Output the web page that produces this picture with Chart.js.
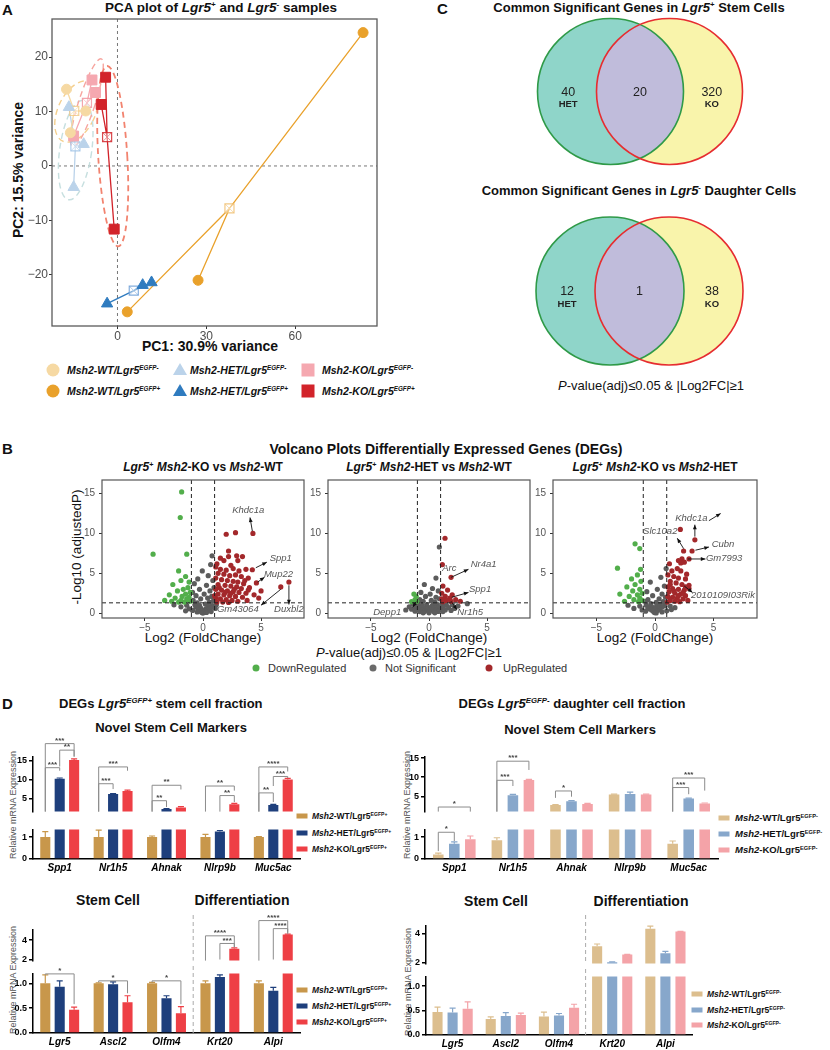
<!DOCTYPE html>
<html>
<head>
<meta charset="utf-8">
<title>Msh2 / Lgr5 figure</title>
<script src="https://cdn.jsdelivr.net/npm/chart.js@4.4.1/dist/chart.umd.min.js"></script>
<style>
  html, body { margin: 0; padding: 0; background: #fff; }
  #fig { position: relative; width: 830px; height: 1050px; overflow: hidden;
    font-family: "Liberation Sans", Arial, Helvetica, sans-serif; color: #111; }
  #fig canvas { position: absolute; }
  .t { position: absolute; white-space: nowrap; line-height: 1; transform: translate(-50%, -50%); }
  .l { position: absolute; white-space: nowrap; line-height: 1; transform: translate(0, -50%); }
  .r90 { transform: translate(-50%, -50%) rotate(-90deg); }
  .b { font-weight: bold; }
  sup { font-size: .6em; line-height: 0; vertical-align: 0; position: relative; top: -.6em; }
  .mk { position: absolute; transform: translate(-50%, -50%); }
  .dot { width: 13px; height: 13px; border-radius: 50%; }
  .sq { width: 13px; height: 13px; }
  .tri { width: 0; height: 0; border-left: 7px solid transparent; border-right: 7px solid transparent; }
  .lg { font-size: 10.5px; font-weight: bold; font-style: italic; }
  .vd { width: 7px; height: 7px; border-radius: 50%; }
  .bk { width: 11px; height: 5px; }
  .dl { font-size: 8.5px; font-weight: bold; }
  .dr { font-size: 9.5px; font-weight: bold; }
  .yt { font-size: 9px; color: #555; }
</style>
</head>
<body>
<div id="fig">
  <!-- A -->
  <div class="l b" style="left:2px;top:9px;font-size:15px">A</div>
  <div class="t b" style="left:221px;top:8px;font-size:13.5px">PCA plot of <i>Lgr5</i><sup>+</sup> and <i>Lgr5</i><sup>-</sup> samples</div>
  <div class="t b r90" style="left:18px;top:170px;font-size:14px">PC2: 15.5% variance</div>
  <div class="t b" style="left:210px;top:346px;font-size:14px">PC1: 30.9% variance</div>

  <div class="mk dot" style="left:53px;top:370px;background:#F6D9A3"></div>
  <div class="l lg" style="left:67px;top:370px">Msh2-WT/Lgr5<sup>EGFP-</sup></div>
  <div class="mk tri" style="left:180px;top:369px;border-bottom:12px solid #BBD3EA"></div>
  <div class="l lg" style="left:190px;top:370px">Msh2-HET/Lgr5<sup>EGFP-</sup></div>
  <div class="mk sq" style="left:308px;top:370px;background:#F5A8B0"></div>
  <div class="l lg" style="left:322px;top:370px">Msh2-KO/Lgr5<sup>EGFP-</sup></div>

  <div class="mk dot" style="left:53px;top:391px;background:#E9A12B"></div>
  <div class="l lg" style="left:67px;top:391px">Msh2-WT/Lgr5<sup>EGFP+</sup></div>
  <div class="mk tri" style="left:180px;top:390px;border-bottom:12px solid #2F7BBF"></div>
  <div class="l lg" style="left:190px;top:391px">Msh2-HET/Lgr5<sup>EGFP+</sup></div>
  <div class="mk sq" style="left:308px;top:391px;background:#D2232A"></div>
  <div class="l lg" style="left:322px;top:391px">Msh2-KO/Lgr5<sup>EGFP+</sup></div>

  <!-- C -->
  <div class="l b" style="left:437px;top:8px;font-size:15px">C</div>
  <div class="t b" style="left:639px;top:7px;font-size:13px">Common Significant Genes in <i>Lgr5</i><sup>+</sup> Stem Cells</div>
  <div class="t b" style="left:639px;top:190px;font-size:13px">Common Significant Genes in <i>Lgr5</i><sup>-</sup> Daughter Cells</div>
  <div class="t" style="left:651px;top:385px;font-size:13px"><i>P</i>-value(adj)≤0.05 &amp; |Log2FC|≥1</div>

  <!-- B -->
  <div class="l b" style="left:2px;top:448px;font-size:15px">B</div>
  <div class="t b" style="left:446px;top:449px;font-size:14px">Volcano Plots Differentially Expressed Genes (DEGs)</div>
  <div class="t b" style="left:203px;top:467px;font-size:12px"><i>Lgr5</i><sup>+</sup> <i>Msh2</i>-KO vs <i>Msh2</i>-WT</div>
  <div class="t b" style="left:429px;top:467px;font-size:12px"><i>Lgr5</i><sup>+</sup> <i>Msh2</i>-HET vs <i>Msh2</i>-WT</div>
  <div class="t b" style="left:655px;top:467px;font-size:12px"><i>Lgr5</i><sup>+</sup> <i>Msh2</i>-KO vs <i>Msh2</i>-HET</div>
  <div class="t r90" style="left:77px;top:547px;font-size:13.5px">-Log10 (adjustedP)</div>
  <div class="t" style="left:203px;top:638px;font-size:13.5px">Log2 (FoldChange)</div>
  <div class="t" style="left:429px;top:638px;font-size:13.5px">Log2 (FoldChange)</div>
  <div class="t" style="left:655px;top:638px;font-size:13.5px">Log2 (FoldChange)</div>
  <div class="t" style="left:409px;top:652px;font-size:13px"><i>P</i>-value(adj)≤0.05 &amp; |Log2FC|≥1</div>
  <div class="mk vd" style="left:256px;top:668px;background:#52ae4b"></div>
  <div class="l" style="left:268px;top:668px;font-size:11px;color:#333">DownRegulated</div>
  <div class="mk vd" style="left:373px;top:668px;background:#6a6a6a"></div>
  <div class="l" style="left:385px;top:668px;font-size:11px;color:#333">Not Significant</div>
  <div class="mk vd" style="left:489px;top:668px;background:#a3282b"></div>
  <div class="l" style="left:503px;top:668px;font-size:11px;color:#333">UpRegulated</div>

  <!-- D -->
  <div class="l b" style="left:2px;top:703px;font-size:15px">D</div>
  <div class="l b" style="left:59px;top:703px;font-size:13px">DEGs <i>Lgr5<sup>EGFP+</sup></i> stem cell fraction</div>
  <div class="t b" style="left:572px;top:703px;font-size:13px">DEGs <i>Lgr5<sup>EGFP-</sup></i> daughter cell fraction</div>
  <div class="t b" style="left:171px;top:727px;font-size:13px">Novel Stem Cell Markers</div>
  <div class="t b" style="left:580px;top:729px;font-size:13px">Novel Stem Cell Markers</div>
  <div class="t b" style="left:108px;top:900px;font-size:14px">Stem Cell</div>
  <div class="t b" style="left:242px;top:900px;font-size:14px">Differentiation</div>
  <div class="t b" style="left:496px;top:901px;font-size:14px">Stem Cell</div>
  <div class="t b" style="left:641px;top:901px;font-size:14px">Differentiation</div>
  <div class="t r90 yt" style="left:13px;top:805px">Relative mRNA Expression</div>
  <div class="t r90 yt" style="left:13px;top:980px">Relative mRNA Expression</div>
  <div class="t r90 yt" style="left:407px;top:805px">Relative mRNA Expression</div>
  <div class="t r90 yt" style="left:408px;top:982px">Relative mRNA Expression</div>

  <div class="mk bk" style="left:302px;top:816px;background:#C8974B"></div>
  <div class="l dl" style="left:312px;top:816px"><i>Msh2</i>-WT/Lgr5<sup>EGFP+</sup></div>
  <div class="mk bk" style="left:302px;top:833px;background:#1E3F7C"></div>
  <div class="l dl" style="left:312px;top:833px"><i>Msh2</i>-HET/Lgr5<sup>EGFP+</sup></div>
  <div class="mk bk" style="left:302px;top:849px;background:#EE3F45"></div>
  <div class="l dl" style="left:312px;top:849px"><i>Msh2</i>-KO/Lgr5<sup>EGFP+</sup></div>

  <div class="mk bk" style="left:302px;top:990px;background:#C8974B"></div>
  <div class="l dl" style="left:312px;top:990px"><i>Msh2</i>-WT/Lgr5<sup>EGFP+</sup></div>
  <div class="mk bk" style="left:302px;top:1006px;background:#1E3F7C"></div>
  <div class="l dl" style="left:312px;top:1006px"><i>Msh2</i>-HET/Lgr5<sup>EGFP+</sup></div>
  <div class="mk bk" style="left:302px;top:1022px;background:#EE3F45"></div>
  <div class="l dl" style="left:312px;top:1022px"><i>Msh2</i>-KO/Lgr5<sup>EGFP+</sup></div>

  <div class="mk bk" style="left:724px;top:818px;background:#DCBE8E"></div>
  <div class="l dr" style="left:735px;top:818px"><i>Msh2</i>-WT/Lgr5<sup>EGFP-</sup></div>
  <div class="mk bk" style="left:724px;top:834px;background:#87A7CB"></div>
  <div class="l dr" style="left:735px;top:834px"><i>Msh2</i>-HET/Lgr5<sup>EGFP-</sup></div>
  <div class="mk bk" style="left:724px;top:850px;background:#F4A3A8"></div>
  <div class="l dr" style="left:735px;top:850px"><i>Msh2</i>-KO/Lgr5<sup>EGFP-</sup></div>

  <div class="mk bk" style="left:697px;top:994px;background:#DCBE8E"></div>
  <div class="l dl" style="left:707px;top:994px"><i>Msh2</i>-WT/Lgr5<sup>EGFP-</sup></div>
  <div class="mk bk" style="left:697px;top:1010px;background:#87A7CB"></div>
  <div class="l dl" style="left:707px;top:1010px"><i>Msh2</i>-HET/Lgr5<sup>EGFP-</sup></div>
  <div class="mk bk" style="left:697px;top:1025px;background:#F4A3A8"></div>
  <div class="l dl" style="left:707px;top:1025px"><i>Msh2</i>-KO/Lgr5<sup>EGFP-</sup></div>
</div>

<script>
// ---------- A: PCA scores (PC1, PC2) ----------
const wtNeg  = [[-17.2, 14.1], [-10.7, 10.1], [-15.9, 6.1]];
const wtPos  = [[82.9, 24.5], [3.3, -26.8], [27.2, -21.0]];
const hetNeg = [[-16.4, 10.8], [-11.4, 4.0], [-14.8, -3.9]];
const hetPos = [[-3.5, -25.3], [8.5, -21.9], [11.5, -21.4]];
const koNeg  = [[-8.6, 15.8], [-7.4, 13.5], [-14.8, 5.5]];
const koPos  = [[-4.0, 16.3], [-5.5, 11.3], [-1.1, -11.6]];
// group centres, same order as the groups below
const pcaCentres = [[-14.6, 10.1], [37.8, -7.8], [-14.2, 3.6], [5.5, -22.9], [-10.3, 11.6], [-3.5, 5.3]];
// confidence ellipses: centre PC1, centre PC2, half PC1, half PC2, tilt (deg)
const pcaEllipses = [[-13.8, 10.0, 6.3, 6.0, 25], [-14.1, 2.9, 5.4, 9.2, 8], [-10.3, 11.6, 2.8, 8.5, 18], [-1.6, 1.8, 4.9, 16.6, -3.5]];

// ---------- C: Venn counts (HET only, shared, KO only) ----------
const vennStem = [40, 20, 320];
const vennDaughter = [12, 1, 38];
const vennNames = ['HET', 'KO'];

// ---------- B: volcano points [log2FC, -log10 padj] ----------
const v1Down = [[-1.84, 15.2], [-1.96, 12.0], [-4.3, 7.4], [-1.4, 7.4], [-2.1, 5.3], [-1.5, 4.6], [-1.9, 4.1], [-1.2, 3.9],
  [-2.6, 3.6], [-1.3, 3.2], [-1.7, 3.0], [-2.2, 2.8], [-1.1, 2.6], [-1.5, 2.4], [-2.9, 2.3], [-1.8, 2.1], [-1.2, 2.0],
  [-2.4, 1.9], [-1.4, 1.8], [-1.9, 1.6], [-1.1, 1.5], [-3.3, 1.6], [-2.1, 1.4], [-1.6, 1.4], [-1.3, 1.7], [-2.7, 1.5]];
const v1NS = [[0.78, 7.2], [0.66, 6.1], [-0.06, 5.3], [0.45, 4.7], [-0.45, 4.3], [0.85, 4.1], [-0.75, 3.7], [0.3, 3.5],
  [0.95, 3.2], [-0.3, 3.0], [0.6, 2.8], [-0.9, 2.6], [0.1, 2.4], [-0.6, 2.2], [0.75, 2.1], [0.4, 1.9], [-0.2, 1.8],
  [-0.85, 1.6], [0.9, 1.55], [0.55, 1.4], [-0.5, 1.3], [0.2, 1.15], [-0.7, 1.05], [0.8, 0.95], [-0.3, 0.95], [0.45, 0.85],
  [-0.6, 0.75], [0.65, 0.65], [-0.2, 0.65], [0.25, 0.55], [-0.4, 0.45], [0.4, 0.4], [0.0, 0.35], [-0.2, 0.25], [0.2, 0.22],
  [0.1, 0.12], [-0.1, 0.08], [0.0, 0.02], [1.15, 1.05], [-1.4, 1.0], [-1.9, 0.8], [-1.2, 0.55],
  [1.05, 0.6], [-0.9, 0.35], [0.7, 0.2], [-0.5, 0.15], [0.3, 0.1], [-2.5, 1.05], [-1.5, 0.3]];
const v1Up = [[2.0, 9.9], [2.8, 10.1], [4.3, 10.0], [2.2, 7.8], [1.8, 6.6], [2.2, 7.1], [2.9, 7.2], [3.4, 7.1], [3.0, 6.6],
  [1.2, 6.2], [4.25, 5.45], [1.1, 5.8], [1.5, 5.5], [2.0, 5.4], [2.6, 5.6], [3.1, 5.3], [3.7, 5.5], [1.3, 5.0], [1.8, 4.9],
  [2.3, 4.7], [2.8, 4.8], [3.3, 4.6], [3.9, 4.4], [4.6, 3.8], [1.1, 4.4], [1.6, 4.2], [2.1, 4.1], [2.6, 4.0], [3.0, 3.9],
  [3.5, 3.7], [1.3, 3.6], [1.9, 3.5], [2.4, 3.4], [2.9, 3.3], [3.3, 3.1], [4.0, 3.2], [1.1, 3.0], [1.6, 2.9], [2.1, 2.8],
  [2.6, 2.7], [3.1, 2.6], [3.7, 2.5], [1.3, 2.4], [1.8, 2.3], [2.3, 2.2], [2.8, 2.1], [3.4, 2.0], [1.1, 1.9], [1.5, 1.8],
  [2.0, 1.7], [2.5, 1.6], [3.0, 1.5], [1.2, 1.4], [1.7, 1.4], [2.2, 1.35], [4.4, 2.3], [5.0, 2.8], [6.7, 3.3], [7.4, 3.9],
  [3.6, 4.1], [2.4, 6.0], [1.5, 6.9], [1.4, 3.2], [2.7, 3.0], [3.9, 2.9], [1.9, 2.6], [2.4, 2.5], [1.0, 2.2], [4.8, 1.9], [3.8, 1.6]];

const v2Down = [[-1.1, 2.1], [-1.2, 1.7], [-1.05, 1.5], [-1.5, 1.45], [-1.3, 2.4]];
const v2NS = [[0.89, 8.3], [0.6, 4.4], [-0.4, 3.6], [0.3, 3.1], [0.8, 2.8], [-0.7, 2.6], [0.1, 2.4], [-0.3, 2.1], [0.6, 2.0],
  [0.9, 1.8], [-0.8, 1.7], [0.2, 1.6], [-0.5, 1.5], [0.5, 1.4], [-1.4, 1.2], [-1.0, 1.1], [-0.6, 1.0], [-0.2, 1.05], [0.3, 1.0],
  [0.7, 1.1], [1.1, 1.15], [1.5, 1.0], [2.0, 1.1], [2.5, 0.9], [3.3, 1.2], [-1.7, 0.8], [-1.2, 0.75], [-0.8, 0.7], [-0.4, 0.65],
  [0.0, 0.7], [0.4, 0.7], [0.8, 0.75], [1.2, 0.7], [1.7, 0.7], [2.2, 0.6], [-1.5, 0.5], [-1.0, 0.45], [-0.6, 0.4], [-0.2, 0.4],
  [0.2, 0.45], [0.6, 0.4], [1.0, 0.45], [1.4, 0.4], [1.9, 0.35], [-1.2, 0.25], [-0.8, 0.2], [-0.4, 0.2], [0.0, 0.18], [0.4, 0.2],
  [0.8, 0.22], [1.2, 0.2], [-0.5, 0.05], [0.0, 0.05], [0.5, 0.05], [-2.0, 0.4]];
const v2Up = [[1.38, 9.4], [1.15, 6.1], [1.9, 4.5], [1.2, 3.4], [1.6, 2.9], [1.1, 2.5], [2.0, 2.3], [1.4, 2.1], [1.8, 1.9],
  [1.1, 1.8], [2.3, 1.7], [1.5, 1.6], [1.2, 1.45], [2.7, 1.5], [1.9, 1.5]];

const v3Down = [[-1.7, 8.7], [-1.3, 8.1], [-3.2, 5.65], [-1.23, 5.5], [-1.5, 4.8], [-2.0, 4.3], [-1.2, 4.0], [-1.7, 3.6],
  [-2.4, 3.3], [-1.3, 3.0], [-1.9, 2.8], [-1.1, 2.5], [-1.5, 2.3], [-2.2, 2.1], [-1.3, 1.9], [-1.8, 1.7], [-1.1, 1.6],
  [-1.4, 1.45], [-2.6, 1.5], [-3.0, 2.4]];
const v3NS = [[0.5, 4.5], [-0.4, 3.9], [0.8, 3.4], [0.2, 3.0], [-0.7, 2.7], [0.6, 2.4], [-0.2, 2.2], [0.9, 2.0], [0.35, 1.8],
  [-0.6, 1.7], [-0.9, 1.5], [0.7, 1.45], [0.1, 1.35], [-0.35, 1.2], [0.45, 1.1], [-0.75, 1.0], [0.85, 0.95], [0.15, 0.9],
  [-0.45, 0.8], [0.6, 0.75], [-0.15, 0.7], [0.3, 0.6], [-0.6, 0.55], [0.0, 0.5], [-0.3, 0.4], [0.4, 0.4], [0.15, 0.3],
  [-0.15, 0.25], [0.05, 0.15], [-0.05, 0.08], [0.1, 0.03], [1.3, 0.9], [-1.3, 0.9], [1.7, 0.7], [-1.8, 0.6], [1.4, 0.45],
  [-1.1, 0.4], [1.0, 0.3], [-0.8, 0.25], [0.6, 0.15], [-2.3, 1.0], [0.95, 5.6]];
const v3Up = [[2.16, 10.5], [3.4, 9.2], [2.44, 7.8], [3.16, 7.8], [2.0, 6.6], [2.3, 6.8], [2.5, 6.4], [2.2, 6.3], [2.9, 6.8],
  [1.23, 6.2], [1.44, 5.3], [2.2, 5.3], [1.1, 4.8], [1.6, 4.6], [2.0, 4.4], [2.6, 4.3], [1.3, 4.0], [1.8, 3.8], [2.3, 3.6],
  [2.9, 3.5], [1.1, 3.3], [1.5, 3.1], [2.0, 3.0], [2.5, 2.9], [1.2, 2.7], [1.7, 2.5], [2.2, 2.4], [2.6, 2.2], [1.1, 2.1],
  [1.5, 2.0], [1.9, 1.9], [2.4, 1.8], [1.3, 1.6], [1.7, 1.5], [2.1, 1.45], [1.05, 1.4], [2.9, 3.1], [2.8, 1.6], [2.7, 4.9],
  [1.9, 5.6], [1.3, 3.6], [2.0, 2.2], [1.6, 2.8], [2.4, 2.6], [2.6, 3.3]];

// gene labels [name, log2FC, -log10 padj] and pointer arrows [from x, from y, to x, to y]
const v1Labels = [['Khdc1a', 3.9, 12.9], ['Spp1', 6.7, 6.9], ['Mup22', 6.5, 4.9], ['Gm43064', 3.0, 0.5], ['Duxbl2', 7.4, 0.5]];
const v1Arrows = [[4.25, 10.3, 4.05, 12.0], [4.55, 5.7, 5.5, 6.4], [4.7, 3.9, 5.3, 4.5], [6.7, 3.0, 5.0, 1.0], [7.4, 3.5, 7.4, 1.1]];
const v2Labels = [['Arc', 1.75, 5.6], ['Nr4a1', 4.7, 6.1], ['Spp1', 4.4, 3.0], ['Nr1h5', 3.55, 0.1], ['Depp1', -3.6, 0.1]];
const v2Arrows = [[1.9, 4.5, 3.4, 5.5], [1.96, 2.0, 3.4, 2.6], [1.9, 1.5, 2.4, 0.45], [-1.1, 1.45, -1.4, 0.75]];
const v3Labels = [['Khdc1a', 3.1, 11.9], ['Slc10a2', 0.45, 10.2], ['Cubn', 5.8, 8.6], ['Gm7993', 5.9, 6.9], ['2010109I03Rik', 5.8, 2.2]];
const v3Arrows = [[3.4, 9.6, 3.4, 11.1], [4.6, 11.6, 5.6, 12.5], [2.44, 8.1, 1.9, 9.4], [3.45, 7.9, 4.6, 8.3], [2.8, 6.8, 4.3, 6.8], [2.5, 3.4, 3.2, 2.6]];

// ---------- D: qPCR relative expression ----------
const novelGenes = ['Spp1', 'Nr1h5', 'Ahnak', 'Nlrp9b', 'Muc5ac'];
const markerGenes = ['Lgr5', 'Ascl2', 'Olfm4', 'Krt20', 'Alpi'];

const posNovelWT  = [1.0, 1.0, 1.0, 1.0, 1.0];
const posNovelHET = [10.2, 6.2, 2.3, 1.25, 3.3];
const posNovelKO  = [15.1, 7.0, 2.7, 3.5, 10.0];
const posNovelWTErr  = [0.25, 0.32, 0.05, 0.12, 0.02];
const posNovelHETErr = [0.2, 0.1, 0.1, 0.05, 0.2];
const posNovelKOErr  = [0.3, 0.2, 0.2, 0.25, 0.3];

const negNovelWT  = [0.2, 0.85, 2.7, 5.5, 0.7];
const negNovelHET = [0.7, 5.3, 3.7, 5.6, 4.4];
const negNovelKO  = [0.9, 9.3, 3.0, 5.5, 3.1];
const negNovelWTErr  = [0.07, 0.12, 0.15, 0.1, 0.12];
const negNovelHETErr = [0.08, 0.2, 0.2, 0.5, 0.15];
const negNovelKOErr  = [0.15, 0.15, 0.15, 0.1, 0.15];

const posMarkWT  = [1.0, 1.0, 1.0, 1.0, 1.0];
const posMarkHET = [0.93, 0.98, 0.70, 1.13, 0.85];
const posMarkKO  = [0.47, 0.62, 0.40, 3.14, 4.57];
const posMarkWTErr  = [0.17, 0.01, 0.02, 0.05, 0.05];
const posMarkHETErr = [0.12, 0.05, 0.05, 0.04, 0.07];
const posMarkKOErr  = [0.05, 0.13, 0.13, 0.08, 0.05];

const negMarkWT  = [0.47, 0.33, 0.38, 3.14, 4.32];
const negMarkHET = [0.46, 0.39, 0.40, 2.05, 2.67];
const negMarkKO  = [0.54, 0.41, 0.56, 2.57, 4.13];
const negMarkWTErr  = [0.10, 0.04, 0.09, 0.15, 0.18];
const negMarkHETErr = [0.09, 0.07, 0.04, 0.03, 0.12];
const negMarkKOErr  = [0.14, 0.04, 0.07, 0.02, 0.02];

// significance brackets: [gene, group a, group b, bar height, leg a end, leg b end, stars]; null = down to axis break
const posNovelSig = [
  [0, 0, 1, 13.1, null, 12.3, '***'], [0, 0, 2, 19.4, null, 16.0, '***'], [0, 1, 2, 17.7, 13.4, 16.0, '**'],
  [1, 0, 1, 8.9, null, 7.5, '***'], [1, 0, 2, 13.3, null, 12.3, '***'],
  [2, 0, 1, 4.45, null, 2.8, '**'], [2, 0, 2, 8.5, null, 7.4, '**'],
  [3, 0, 2, 8.3, null, 7.1, '**'], [3, 1, 2, 5.8, null, 4.1, '**'],
  [4, 0, 1, 6.5, null, 4.1, '**'], [4, 0, 2, 13.3, null, 12.1, '****'], [4, 1, 2, 10.8, 8.3, 10.4, '***']];
const negNovelSig = [
  [0, 0, 2, 2.2, null, null, '*'], [1, 0, 1, 9.2, null, 7.7, '***'], [1, 0, 2, 14.2, null, 11.9, '***'],
  [2, 0, 1, 6.4, 4.6, 4.9, '*'], [4, 0, 1, 7.3, null, 5.55, '***'], [4, 0, 2, 9.8, null, 6.5, '***']];
const negNovelSigLow = [[0, 0, 1, 1.22, 0.36, 0.82, '*']];
const posMarkSig = [
  [3, 0, 2, 4.44, null, 3.27, '****'], [3, 1, 2, 3.67, 2.05, 3.27, '***'],
  [4, 0, 2, 5.98, null, 4.76, '****'], [4, 1, 2, 5.17, 2.05, 4.63, '****']];
const posMarkSigLow = [
  [0, 0, 2, 1.19, 1.17, 0.58, '*'], [1, 0, 2, 1.05, 1.02, 0.8, '*'], [2, 0, 2, 1.05, 1.02, 0.58, '*']];

// ================= drawing =================
const FONT = '"Liberation Sans", Arial, Helvetica, sans-serif';
Chart.defaults.font.family = FONT;
Chart.defaults.plugins.legend.display = false;
Chart.defaults.plugins.tooltip.enabled = false;
Chart.defaults.animation = false;

const fig = document.getElementById('fig');
const xy = arr => arr.map(p => ({ x: p[0], y: p[1] }));
const minus = v => (v < 0 ? '\u2212' + Math.abs(v) : String(v));

function addChart(left, top, width, height, config) {
  const cv = document.createElement('canvas');
  cv.width = width; cv.height = height;
  cv.style.left = left + 'px'; cv.style.top = top + 'px';
  cv.style.width = width + 'px'; cv.style.height = height + 'px';
  fig.appendChild(cv);
  config.options.responsive = false;
  config.options.maintainAspectRatio = false;
  config.options.events = [];
  return new Chart(cv, config);
}

function drawArrow(ctx, x1, y1, x2, y2) {
  const a = Math.atan2(y2 - y1, x2 - x1), h = 5;
  ctx.lineWidth = 0.9;
  ctx.beginPath(); ctx.moveTo(x1, y1); ctx.lineTo(x2, y2); ctx.stroke();
  ctx.beginPath(); ctx.moveTo(x2, y2);
  ctx.lineTo(x2 - h * Math.cos(a - 0.4), y2 - h * Math.sin(a - 0.4));
  ctx.lineTo(x2 - h * Math.cos(a + 0.4), y2 - h * Math.sin(a + 0.4));
  ctx.closePath(); ctx.fill();
}

// ---- A: PCA ----
const pcaGroups = [
  { pts: wtNeg, color: '#F6D9A3', fade: 'rgba(240,200,130,0.8)', shape: 'circle', r: 5 },
  { pts: wtPos, color: '#E9A12B', fade: 'rgba(240,190,110,0.85)', shape: 'circle', r: 5 },
  { pts: hetNeg, color: '#BBD3EA', fade: 'rgba(160,195,230,0.85)', shape: 'triangle', r: 6.5 },
  { pts: hetPos, color: '#2F7BBF', fade: 'rgba(110,160,215,0.85)', shape: 'triangle', r: 6.5 },
  { pts: koNeg, color: '#F5A8B0', fade: 'rgba(242,150,160,0.85)', shape: 'rect', r: 7 },
  { pts: koPos, color: '#D2232A', fade: 'rgba(210,40,45,0.85)', shape: 'rect', r: 7 }
];
const ellipseColors = ['#F4CF8E', '#C6DFDF', '#F7A59F', '#F2836F'];

const pcaSets = [];
pcaGroups.forEach((g, i) => {
  const c = { x: pcaCentres[i][0], y: pcaCentres[i][1] };
  const star = [];
  g.pts.forEach(p => { star.push({ x: p[0], y: p[1] }, c); });
  pcaSets.push({ data: xy(g.pts), pointStyle: g.shape, pointRadius: g.r, backgroundColor: g.color, borderColor: g.color, borderWidth: 1, order: 0 });
  pcaSets.push({ data: star, showLine: true, pointRadius: 0, borderColor: g.color, borderWidth: 1.3, order: 3 });
  pcaSets.push({ data: [c], pointStyle: 'rect', pointRadius: 6.4, backgroundColor: 'rgba(255,255,255,0.4)', borderColor: g.fade, borderWidth: 1.2, order: 1 });
  pcaSets.push({ data: [c], pointStyle: 'crossRot', pointRadius: 6.2, borderColor: g.fade, borderWidth: 1, order: 1 });
});

const pcaDecor = {
  id: 'pcaDecor',
  beforeDatasetsDraw(chart) {
    const { ctx, chartArea: a, scales: { x, y } } = chart;
    ctx.save();
    ctx.setLineDash([3, 3]); ctx.strokeStyle = '#777'; ctx.lineWidth = 1;
    ctx.beginPath();
    ctx.moveTo(x.getPixelForValue(0), a.top); ctx.lineTo(x.getPixelForValue(0), a.bottom);
    ctx.moveTo(a.left, y.getPixelForValue(0)); ctx.lineTo(a.right, y.getPixelForValue(0));
    ctx.stroke();
    const ux = x.getPixelForValue(1) - x.getPixelForValue(0);
    const uy = y.getPixelForValue(0) - y.getPixelForValue(1);
    pcaEllipses.forEach((e, i) => {
      ctx.setLineDash([6, 4]);
      ctx.strokeStyle = ellipseColors[i];
      ctx.lineWidth = i === 3 ? 1.8 : 1.4;
      ctx.beginPath();
      ctx.ellipse(x.getPixelForValue(e[0]), y.getPixelForValue(e[1]), e[2] * ux, e[3] * uy, e[4] * Math.PI / 180, 0, Math.PI * 2);
      ctx.stroke();
    });
    ctx.restore();
  },
  afterDraw(chart) {
    const { ctx, chartArea: a } = chart;
    ctx.save(); ctx.strokeStyle = '#5a5a5a'; ctx.lineWidth = 1.3;
    ctx.strokeRect(a.left, a.top, a.right - a.left, a.bottom - a.top);
    ctx.restore();
  }
};

addChart(0, 0, 385, 342, {
  type: 'scatter',
  data: { datasets: pcaSets },
  options: {
    layout: { padding: { top: 19, right: 6 } },
    scales: {
      x: { type: 'linear', min: -22.1, max: 87.6, afterFit: s => { s.height = 16; },
        ticks: { stepSize: 30, includeBounds: false, padding: 0, color: '#4d4d4d', font: { size: 12 }, callback: minus },
        grid: { drawOnChartArea: false, tickLength: 3, tickColor: '#333' }, border: { display: false } },
      y: { min: -29.4, max: 27, afterFit: s => { s.width = 52; },
        ticks: { stepSize: 10, includeBounds: false, padding: 1, color: '#4d4d4d', font: { size: 12 }, callback: minus },
        grid: { drawOnChartArea: false, tickLength: 3, tickColor: '#333' }, border: { display: false } }
    }
  },
  plugins: [pcaDecor]
});

// ---- C: Venn diagrams ----
function vennPlugin(counts, circles) {
  return {
    id: 'venn',
    afterDatasetsDraw(chart) {
      const { ctx, scales: { x, y } } = chart;
      const c = circles.map(([cx, cy, r]) => [x.getPixelForValue(cx), y.getPixelForValue(cy), x.getPixelForValue(cx + r) - x.getPixelForValue(cx)]);
      const circ = k => { ctx.beginPath(); ctx.arc(c[k][0], c[k][1], c[k][2], 0, Math.PI * 2); };
      ctx.save();
      circ(0); ctx.fillStyle = '#8fd5c9'; ctx.fill();
      circ(1); ctx.fillStyle = '#f9f4ab'; ctx.fill();
      ctx.save(); circ(0); ctx.clip(); circ(1); ctx.fillStyle = '#c0bcdb'; ctx.fill(); ctx.restore();
      ctx.lineWidth = 1.6;
      circ(0); ctx.strokeStyle = '#2f9a48'; ctx.stroke();
      circ(1); ctx.strokeStyle = '#e62d30'; ctx.stroke();
      const r = c[0][2];
      const cols = [c[0][0] - 0.58 * r, (c[0][0] + c[1][0]) / 2, c[1][0] + 0.58 * r];
      ctx.fillStyle = '#222'; ctx.textAlign = 'center'; ctx.textBaseline = 'middle';
      counts.forEach((n, i) => {
        ctx.font = '12.5px ' + FONT;
        ctx.fillText(String(n), cols[i], c[0][1] + 1);
      });
      ctx.font = 'bold 9.5px ' + FONT;
      ctx.fillText(vennNames[0], cols[0], c[0][1] + 13);
      ctx.fillText(vennNames[1], cols[2], c[0][1] + 13);
      ctx.restore();
    }
  };
}
function venn(top, counts, circles) {
  addChart(530, top, 220, 160, {
    type: 'scatter',
    data: { datasets: [] },
    options: {
      layout: { padding: 0 },
      scales: { x: { type: 'linear', display: false, min: 0, max: 220 }, y: { display: false, min: 0, max: 160, reverse: true } }
    },
    plugins: [vennPlugin(counts, circles)]
  });
}
venn(12, vennStem, [[80.5, 79.5, 73], [139.5, 79.5, 73]]);
venn(212, vennDaughter, [[80, 79, 74], [139, 79, 74]]);

// ---- B: volcano plots ----
function volcanoDecor(labels, arrows) {
  return {
    id: 'volcDecor',
    afterDatasetsDraw(chart) {
      const { ctx, chartArea: a, scales: { x, y } } = chart;
      ctx.save();
      ctx.strokeStyle = '#222'; ctx.lineWidth = 1; ctx.setLineDash([4, 3]);
      ctx.beginPath();
      [-1, 1].forEach(v => { const px = x.getPixelForValue(v); ctx.moveTo(px, a.top); ctx.lineTo(px, a.bottom); });
      const py = y.getPixelForValue(-Math.log10(0.05));
      ctx.moveTo(a.left, py); ctx.lineTo(a.right, py);
      ctx.stroke();
      ctx.setLineDash([]);
      ctx.strokeStyle = '#555'; ctx.lineWidth = 1.2;
      ctx.strokeRect(a.left, a.top, a.right - a.left, a.bottom - a.top);
      ctx.strokeStyle = '#111'; ctx.fillStyle = '#111';
      arrows.forEach(([x1, y1, x2, y2]) => drawArrow(ctx, x.getPixelForValue(x1), y.getPixelForValue(y1), x.getPixelForValue(x2), y.getPixelForValue(y2)));
      ctx.fillStyle = '#555'; ctx.font = 'italic 9.5px ' + FONT; ctx.textAlign = 'center'; ctx.textBaseline = 'middle';
      labels.forEach(([t, lx, ly]) => ctx.fillText(t, x.getPixelForValue(lx), y.getPixelForValue(ly)));
      ctx.restore();
    }
  };
}
function volcano(x0, x1, down, ns, up, labels, arrows) {
  const yW = 22, cvLeft = x0 - yW, top = 470, areaTop = 476, areaBottom = 618, cvBottom = 632;
  addChart(cvLeft, top, x1 - cvLeft + 4, cvBottom - top, {
    type: 'scatter',
    data: { datasets: [
      { data: xy(up), backgroundColor: '#a3282b' },
      { data: xy(down), backgroundColor: '#52ae4b' },
      { data: xy(ns), backgroundColor: '#5c5c5c' }
    ] },
    options: {
      elements: { point: { radius: 2.6, borderWidth: 0 } },
      layout: { padding: { top: areaTop - top, right: 4 } },
      scales: {
        x: { type: 'linear', min: -8.7, max: 8.7, afterFit: s => { s.height = cvBottom - areaBottom; },
          ticks: { stepSize: 5, includeBounds: false, padding: 1, color: '#555', font: { size: 10 }, callback: minus },
          grid: { drawOnChartArea: false, tickLength: 3, tickColor: '#333' }, border: { display: false } },
        y: { min: -0.6, max: 16.7, afterFit: s => { s.width = yW; },
          ticks: { stepSize: 5, includeBounds: false, padding: 4, color: '#555', font: { size: 10 } },
          grid: { drawOnChartArea: false, tickLength: 3, tickColor: '#333' }, border: { display: false } }
      }
    },
    plugins: [volcanoDecor(labels, arrows)]
  });
}
volcano(102, 304, v1Down, v1NS, v1Up, v1Labels, v1Arrows);
volcano(328, 530, v2Down, v2NS, v2Up, v2Labels, v2Arrows);
volcano(553, 757, v3Down, v3NS, v3Up, v3Labels, v3Arrows);

// ---- D: broken-axis bar charts ----
const posColors = ['#C8974B', '#1E3F7C', '#EE3F45'];
const negColors = ['#DCBE8E', '#87A7CB', '#F4A3A8'];

function errorBars(errs, cols) {
  return {
    id: 'errBars',
    afterDatasetsDraw(chart) {
      const { ctx, chartArea: a, scales: { y } } = chart;
      ctx.save();
      ctx.beginPath(); ctx.rect(a.left, a.top - 2, a.right - a.left, a.bottom - a.top + 2); ctx.clip();
      chart.data.datasets.forEach((ds, i) => {
        chart.getDatasetMeta(i).data.forEach((bar, j) => {
          const v = ds.data[j], e = errs[i][j];
          if (!e || v < y.min || v > y.max) return;
          const y0 = y.getPixelForValue(v), y1 = y.getPixelForValue(v + e), hw = bar.width * 0.3;
          ctx.strokeStyle = cols[i]; ctx.lineWidth = 1.2;
          ctx.beginPath(); ctx.moveTo(bar.x, y0); ctx.lineTo(bar.x, y1);
          ctx.moveTo(bar.x - hw, y1); ctx.lineTo(bar.x + hw, y1); ctx.stroke();
        });
      });
      ctx.restore();
    }
  };
}
function brackets(list) {
  return {
    id: 'sigBrackets',
    afterDatasetsDraw(chart) {
      const { ctx, chartArea: a, scales: { y } } = chart;
      const py = v => (v === null ? a.bottom : Math.min(a.bottom, y.getPixelForValue(v)));
      ctx.save();
      list.forEach(([g, s1, s2, top, l1, l2, txt]) => {
        const x1 = chart.getDatasetMeta(s1).data[g].x, x2 = chart.getDatasetMeta(s2).data[g].x, yt = py(top);
        ctx.strokeStyle = '#8c8c8c'; ctx.lineWidth = 1;
        ctx.beginPath(); ctx.moveTo(x1, py(l1)); ctx.lineTo(x1, yt); ctx.lineTo(x2, yt); ctx.lineTo(x2, py(l2)); ctx.stroke();
        ctx.fillStyle = '#444'; ctx.font = 'bold 8px ' + FONT; ctx.textAlign = 'center'; ctx.textBaseline = 'bottom';
        ctx.fillText(txt, (x1 + x2) / 2, yt + 1);
      });
      ctx.restore();
    }
  };
}
function separator(fromY) {
  return {
    id: 'sep',
    afterDatasetsDraw(chart) {
      const { ctx, chartArea: a, scales: { x } } = chart;
      const px = (x.getPixelForTick(2) + x.getPixelForTick(3)) / 2;
      ctx.save(); ctx.strokeStyle = '#aaa'; ctx.lineWidth = 1; ctx.setLineDash([4, 3]);
      ctx.beginPath(); ctx.moveTo(px, fromY); ctx.lineTo(px, a.bottom); ctx.stroke();
      ctx.restore();
    }
  };
}

function barPanel(p) {
  const yW = 33, cvLeft = p.left - yW;
  const plugins = [errorBars(p.errs, p.colors)];
  if (p.sig) plugins.push(brackets(p.sig));
  if (p.sepFrom !== undefined) plugins.push(separator(p.sepFrom));
  addChart(cvLeft, p.cvTop, p.right - cvLeft + 4, p.cvBottom - p.cvTop, {
    type: 'bar',
    data: {
      labels: p.labels,
      datasets: p.series.map((d, i) => ({ data: d, backgroundColor: p.colors[i], borderWidth: 0, clip: 0,
        categoryPercentage: p.cp, barPercentage: p.bp }))
    },
    options: {
      layout: { padding: { top: p.top - p.cvTop, right: 4, bottom: p.showX ? 0 : p.cvBottom - p.bottom } },
      scales: {
        x: { display: p.showX, afterFit: p.showX ? (s => { s.height = p.cvBottom - p.bottom; }) : undefined,
          grid: { display: false, drawTicks: false, tickLength: 0 }, border: { display: true, color: '#000', width: 1.5 },
          ticks: { autoSkip: false, maxRotation: 0, color: '#000', padding: 3, font: { size: 10, weight: 'bold', style: 'italic' } } },
        y: { min: p.min, max: p.max, afterFit: s => { s.width = yW; },
          ticks: { stepSize: p.step, includeBounds: false, color: '#000', padding: 2, font: { size: 9, weight: 'bold' },
            callback: p.fmt || (v => String(v)) },
          grid: { drawOnChartArea: false, tickLength: 4, tickColor: '#000', lineWidth: 1.5 },
          border: { color: '#000', width: 1.5 } }
      }
    },
    plugins
  });
}
const oneDec = v => v.toFixed(1);

// stem cell fraction, novel markers
barPanel({ left: 33, right: 300, cvTop: 728, top: 757, bottom: 819, cvBottom: 819, min: 1.6, max: 15.9, step: 5,
  labels: novelGenes, series: [posNovelWT, posNovelHET, posNovelKO], errs: [posNovelWTErr, posNovelHETErr, posNovelKOErr],
  colors: posColors, cp: 0.81, bp: 0.7, showX: false, sig: posNovelSig });
barPanel({ left: 33, right: 300, cvTop: 822, top: 825, bottom: 859, cvBottom: 878, min: 0, max: 1.35, step: 1,
  labels: novelGenes, series: [posNovelWT, posNovelHET, posNovelKO], errs: [posNovelWTErr, posNovelHETErr, posNovelKOErr],
  colors: posColors, cp: 0.81, bp: 0.7, showX: true });

// daughter cell fraction, novel markers
barPanel({ left: 425, right: 718, cvTop: 728, top: 757, bottom: 819, cvBottom: 819, min: 1.0, max: 15.3, step: 5,
  labels: novelGenes, series: [negNovelWT, negNovelHET, negNovelKO], errs: [negNovelWTErr, negNovelHETErr, negNovelKOErr],
  colors: negColors, cp: 0.82, bp: 0.66, showX: false, sig: negNovelSig });
barPanel({ left: 425, right: 718, cvTop: 822, top: 825, bottom: 859, cvBottom: 878, min: 0, max: 1.35, step: 1,
  labels: novelGenes, series: [negNovelWT, negNovelHET, negNovelKO], errs: [negNovelWTErr, negNovelHETErr, negNovelKOErr],
  colors: negColors, cp: 0.82, bp: 0.66, showX: true, sig: negNovelSigLow });

// stem cell fraction, stem / differentiation markers
barPanel({ left: 33, right: 300, cvTop: 905, top: 930, bottom: 968, cvBottom: 968, min: 1.94, max: 5.03, step: 2,
  labels: markerGenes, series: [posMarkWT, posMarkHET, posMarkKO], errs: [posMarkWTErr, posMarkHETErr, posMarkKOErr],
  colors: posColors, cp: 0.81, bp: 0.7, showX: false, sig: posMarkSig, sepFrom: 10 });
barPanel({ left: 33, right: 300, cvTop: 966, top: 971, bottom: 1033, cvBottom: 1050, min: 0, max: 1.2, step: 0.5, fmt: oneDec,
  labels: markerGenes, series: [posMarkWT, posMarkHET, posMarkKO], errs: [posMarkWTErr, posMarkHETErr, posMarkKOErr],
  colors: posColors, cp: 0.81, bp: 0.7, showX: true, sig: posMarkSigLow, sepFrom: 0 });

// daughter cell fraction, stem / differentiation markers
barPanel({ left: 426, right: 692, cvTop: 903, top: 926, bottom: 971, cvBottom: 971, min: 1.96, max: 4.51, step: 2,
  labels: markerGenes, series: [negMarkWT, negMarkHET, negMarkKO], errs: [negMarkWTErr, negMarkHETErr, negMarkKOErr],
  colors: negColors, cp: 0.85, bp: 0.67, showX: false, sepFrom: 12 });
barPanel({ left: 426, right: 692, cvTop: 969, top: 976, bottom: 1035, cvBottom: 1050, min: 0, max: 1.2, step: 0.5, fmt: oneDec,
  labels: markerGenes, series: [negMarkWT, negMarkHET, negMarkKO], errs: [negMarkWTErr, negMarkHETErr, negMarkKOErr],
  colors: negColors, cp: 0.85, bp: 0.67, showX: true, sepFrom: 0 });
</script>
</body>
</html>
